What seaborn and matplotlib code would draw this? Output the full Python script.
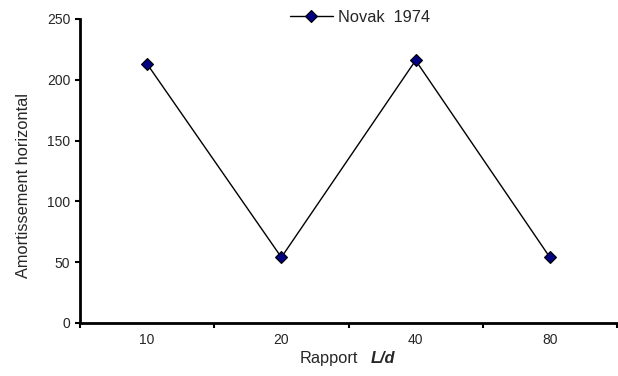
import matplotlib
matplotlib.use("Agg")
import matplotlib.pyplot as plt
import seaborn as sns
import pandas as pd
from matplotlib.ticker import FixedLocator, NullFormatter

categories = ["10", "20", "40", "80"]
values = [213, 54, 216, 54]
series_name = "Novak  1974"
y_ticks = [0, 50, 100, 150, 200, 250]

sns.set_style("white")
plt.rcParams['font.family'] = ['Liberation Sans', 'DejaVu Sans']

df = pd.DataFrame({"pos": list(range(len(categories))), "val": values})

fig = plt.figure(figsize=(6.18, 3.76), dpi=100)
ax = fig.add_axes([80/618, 53/376, 537/618, 304/376])

sns.lineplot(data=df, x="pos", y="val", ax=ax, color="black", linewidth=1,
             marker="D", markersize=6.5, markerfacecolor="#000080",
             markeredgecolor="black", markeredgewidth=0.8, label=series_name)

n = len(categories)
ax.set_xlim(-0.5, n - 0.5)
ax.set_ylim(0, 250)
ax.set_yticks(y_ticks)
ax.xaxis.set_major_locator(FixedLocator([i - 0.5 for i in range(n + 1)]))
ax.xaxis.set_major_formatter(NullFormatter())
ax.xaxis.set_minor_locator(FixedLocator(list(range(n))))
ax.set_xticklabels(categories, minor=True)
ax.tick_params(axis='x', which='minor', length=0, pad=7, labelsize=10)
ax.tick_params(axis='x', which='major', length=3.6, width=1.5, direction='out', bottom=True, color='black')
ax.tick_params(axis='y', length=3.6, width=1.5, direction='out', left=True, labelsize=10, color='black', pad=3.5)

for s in ["top", "right"]:
    ax.spines[s].set_visible(False)
for s in ["left", "bottom"]:
    ax.spines[s].set_color("black")
    ax.spines[s].set_linewidth(2)

ax.set_xlabel("")
ax.set_ylabel("")
fig.text(24/618, 1 - 186/376, "Amortissement horizontal", rotation=90,
         ha="center", va="center", fontsize=11.8)

fig.text(358/618, 1 - 363/376, "Rapport", ha="right", va="baseline", fontsize=11.8)
fig.text(371/618, 1 - 363/376, "L/d", ha="left", va="baseline", fontsize=11.8,
         fontweight="bold", fontstyle="italic")

leg = ax.legend(loc="center", bbox_to_anchor=(360/618, 1 - 17/376),
                bbox_transform=fig.transFigure, frameon=False,
                fontsize=11.8, handlelength=2.6, handletextpad=0.3, borderaxespad=0,
                borderpad=0)

fig.savefig("out.png", dpi=100, facecolor="white")
